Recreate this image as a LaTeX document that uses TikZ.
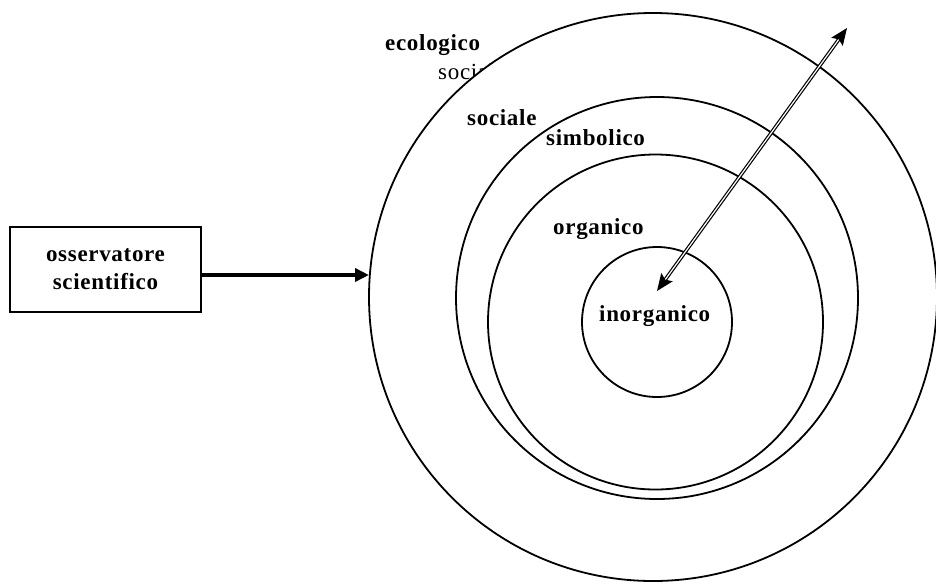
\documentclass[tikz,border=0pt]{standalone}
\usepackage{fontspec}
\setmainfont{Liberation Serif}[LetterSpace=3]
\usetikzlibrary{arrows.meta}
\begin{document}
\begin{tikzpicture}[x=1pt,y=-1pt,
  ring/.style={draw, circle, line width=1.8pt, inner sep=0pt},
  lbl/.style={anchor=base west, inner sep=0pt, font=\fontsize{23}{26}\selectfont\bfseries},
  obsbox/.style={draw, line width=1.6pt, minimum width=191pt, minimum height=85pt, align=center, inner sep=0pt, font=\fontsize{23}{28}\selectfont\bfseries},
  flow/.style={line width=4pt, -{Triangle[length=14pt,width=13pt]}},
  dbl/.style={double, line width=1.2pt, double distance=1.2pt, {Stealth[length=17pt,width=14pt,inset=3pt]}-{Stealth[length=17pt,width=14pt,inset=3pt]}}]
\useasboundingbox (0,0) rectangle (936,584);
% hidden regular label behind the outer ring
\node[anchor=base west, inner sep=0pt, font=\fontsize{23}{26}\selectfont] (socreg) at (438,79) {sociale};
% rings
\node[ring, fill=white, minimum size=568pt] (eco) at (653,297) {};
\node[ring, minimum size=402pt] (soc) at (657,298) {};
\node[ring, minimum size=335pt] (org) at (655.5,322) {};
\node[ring, minimum size=150pt] (inorg) at (657,322) {};
% labels
\node[lbl] (lecologico) at (385,50) {ecologico};
\node[lbl] (lsociale) at (467,125) {sociale};
\node[lbl] (lsimbolico) at (546,145) {simbolico};
\node[lbl] (lorganico) at (553,234) {organico};
\node[lbl] (linorganico) at (599,321) {inorganico};
% observer box
\node[obsbox] (obs) at (105.5,269.5) {osservatore\\scientifico};
\coordinate (hit) at (369,275);
\draw[flow] (obs.east |- hit) -- (hit);
% double arrow
\coordinate (pin) at (657,291);
\coordinate (pout) at (847,28);
\draw[dbl] (pin) -- (pout);
\end{tikzpicture}
\end{document}
